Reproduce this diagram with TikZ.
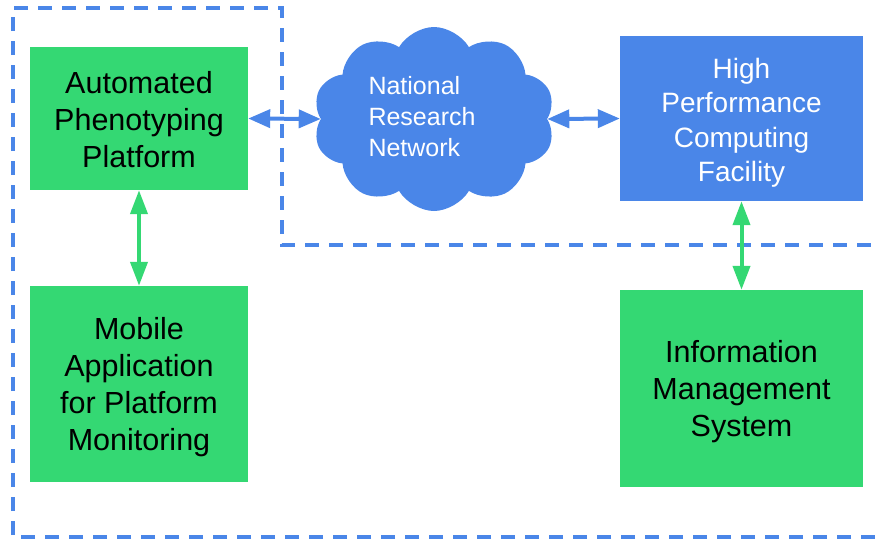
\documentclass[tikz,border=0pt]{standalone}
\usepackage{fontspec}
\setmainfont{Liberation Sans}
\usetikzlibrary{shapes.symbols,arrows.meta}
\definecolor{gbox}{HTML}{34D873}
\definecolor{bbox}{HTML}{4A86E8}
\tikzset{
  greenbox/.style={fill=gbox, draw=none, inner sep=0pt},
  greentext/.style={align=center, inner sep=0pt, text=black, yshift=-3.5pt,
    font=\fontsize{30.5}{37}\selectfont},
  bluebox/.style={fill=bbox, draw=none, inner sep=0pt},
  bluetext/.style={align=center, inner sep=0pt, text=white, yshift=-4.5pt,
    font=\fontsize{28}{34.5}\selectfont},
  bluearrow/.style={draw=bbox, line width=4pt, {Triangle[length=22pt,width=18pt]}-{Triangle[length=22pt,width=18pt]}},
  greenarrow/.style={draw=gbox, line width=4pt, {Triangle[length=24pt,width=17pt]}-{Triangle[length=24pt,width=17pt]}},
  boundary/.style={draw=bbox, line width=3.5pt, dash pattern=on 14pt off 10pt}
}
\begin{document}
\begin{tikzpicture}[x=1pt,y=-1pt]
\useasboundingbox (0,0) rectangle (875,546);
\draw[boundary] (875,537) -- (13,537) -- (13,8) -- (282,8) -- (282,245) -- (880,245);
\node[greenbox, minimum width=218pt, minimum height=143pt] (app) at (139,118.5) {};
\node[greentext, yshift=2.5pt] (appt) at (app.center) {Automated\\Phenotyping\\Platform};
\node[greenbox, minimum width=218pt, minimum height=196pt] (mob) at (139,384) {};
\node[greentext] (mobt) at (mob.center) {Mobile\\Application\\for Platform\\Monitoring};
\node[bluebox, minimum width=243pt, minimum height=165pt] (hpc) at (741.5,118.5) {};
\node[bluetext] (hpct) at (hpc.center) {High\\Performance\\Computing\\Facility};
\node[greenbox, minimum width=243pt, minimum height=197pt] (ims) at (741.5,388.5) {};
\node[greentext] (imst) at (ims.center) {Information\\Management\\System};
\node[cloud, cloud puffs=10, cloud puff arc=120, aspect=1.3, fill=bbox, draw=none,
  minimum width=242pt, minimum height=184pt, inner sep=0pt] (nrn) at (434,119) {};
\node[text=white, align=left, font=\fontsize{25}{31}\selectfont] (nrnt) at (422,117) {National\\Research\\Network};
\draw[bluearrow] (app.east) -- (nrn.west);
\draw[bluearrow] (nrn.east) -- (hpc.west);
\draw[greenarrow] (app.south) -- (mob.north);
\draw[greenarrow] (hpc.south) -- (ims.north);
\end{tikzpicture}
\end{document}
